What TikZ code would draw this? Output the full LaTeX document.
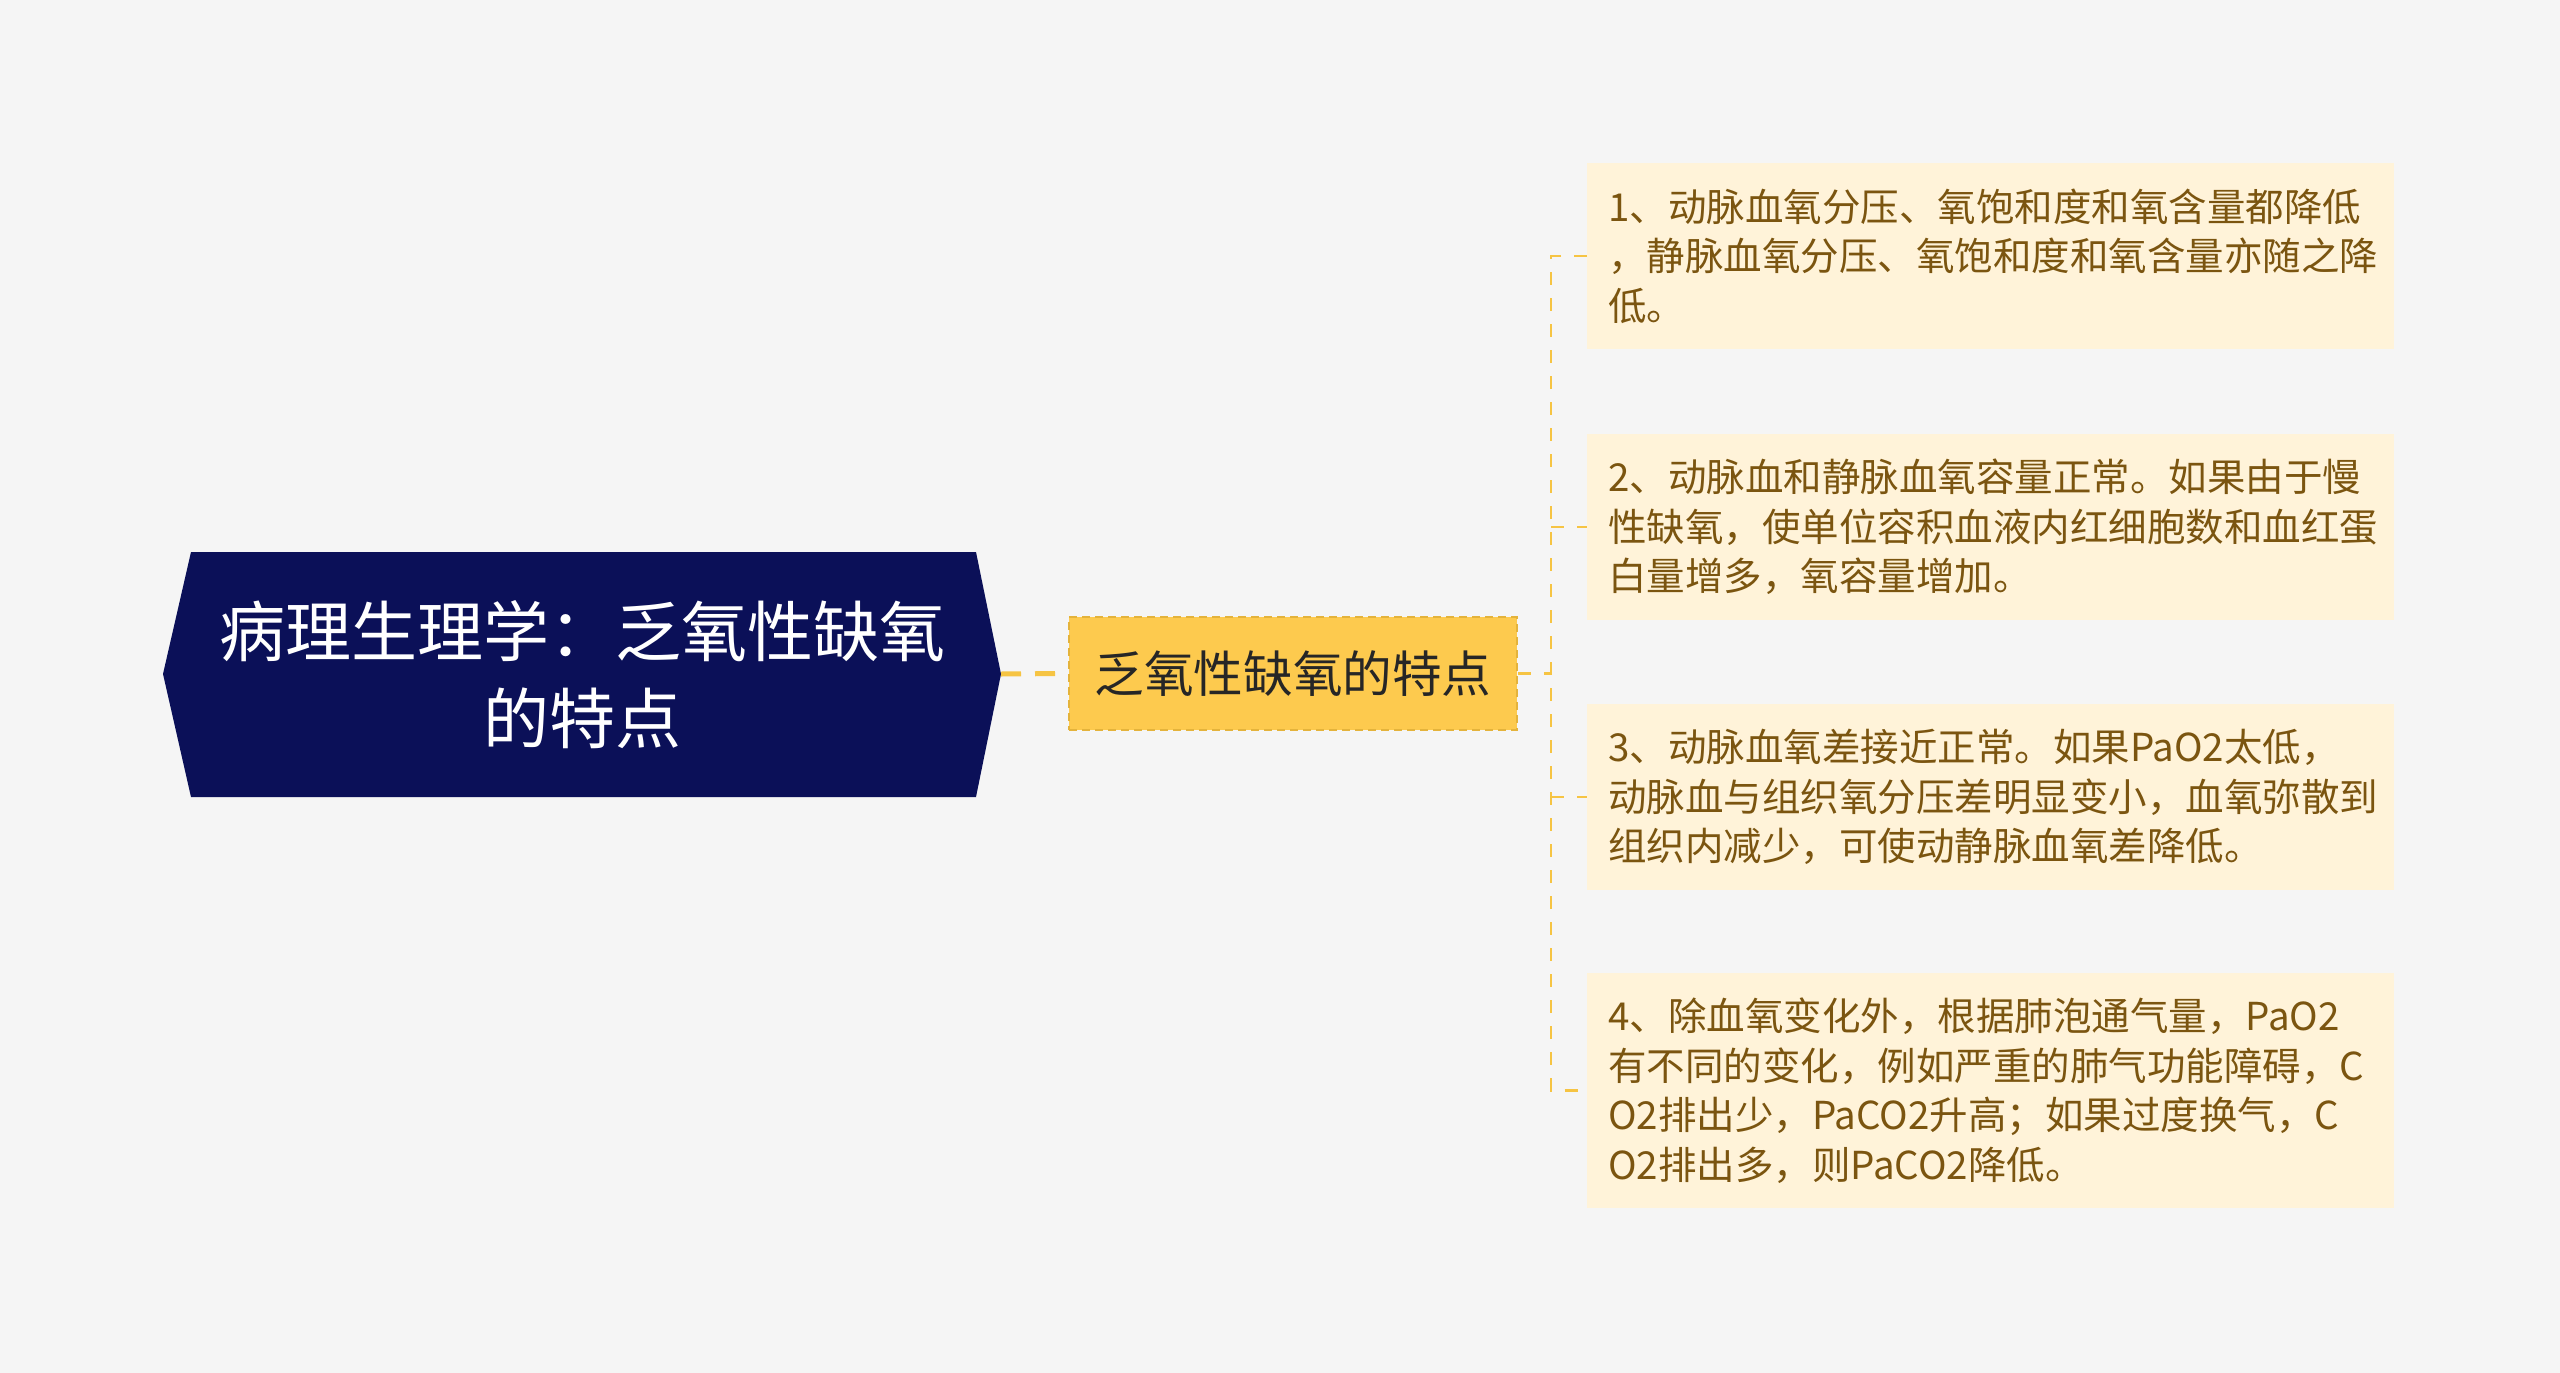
\documentclass[tikz,border=0pt]{standalone}
\usepackage{fontspec}
\setmainfont{Noto Sans CJK SC}
\newfontfamily\cjk{Noto Sans CJK SC}
\definecolor{bg}{HTML}{F5F5F5}
\definecolor{navy}{HTML}{0B1058}
\definecolor{gold}{HTML}{FDCA4E}
\definecolor{goldline}{HTML}{F6C443}
\definecolor{cream}{HTML}{FFF3D9}
\definecolor{brown}{HTML}{7B5510}
\begin{document}
\begin{tikzpicture}[x=1pt,y=-1pt,
  leaf/.style={rectangle, fill=cream, anchor=west, inner xsep=21pt, inner ysep=0pt,
    text width=765pt, align=left, text=brown, font={\cjk\fontsize{38.5}{49.5}\selectfont}},
  conn/.style={draw=goldline, line width=2.8pt, dash pattern=on 13pt off 13pt},
  thick conn/.style={draw=goldline, line width=5pt, dash pattern=on 20pt off 14pt}]
\fill[bg] (0,0) rectangle (2560,1373);
\useasboundingbox (0,0) rectangle (2560,1373);
% root
\fill[navy] (163,674) -- (191,552) -- (976,552) -- (1001,674) -- (976,797) -- (191,797) -- cycle;
\node[text=white, align=center, font={\cjk\fontsize{66}{87}\selectfont}] (root) at (582,675)
  {病理生理学：乏氧性缺氧\\的特点};
\coordinate (rootR) at (1001,674);
% middle
\node[rectangle, fill=gold, draw=goldline!85!brown, dash pattern=on 8pt off 5pt, line width=1.5pt,
  minimum width=448pt, minimum height=113pt, inner sep=0pt,
  font={\cjk\fontsize{49.6}{55}\selectfont}, text=black!85] (mid) at (1293,673.5) {乏氧性缺氧的特点};
\draw[thick conn] (rootR) -- (mid.west);
% leaves
\node[leaf, minimum height=186pt] (l1) at (1587,256)
  {1、动脉血氧分压、氧饱和度和氧含量都降低\\，静脉血氧分压、氧饱和度和氧含量亦随之降\\低。};
\node[leaf, minimum height=186pt] (l2) at (1587,527)
  {2、动脉血和静脉血氧容量正常。如果由于慢\\性缺氧，使单位容积血液内红细胞数和血红蛋\\白量增多，氧容量增加。};
\node[leaf, minimum height=186pt] (l3) at (1587,797)
  {3、动脉血氧差接近正常。如果PaO2太低，\\动脉血与组织氧分压差明显变小，血氧弥散到\\组织内减少，可使动静脉血氧差降低。};
\node[leaf, minimum height=235pt] (l4) at (1587,1090.5)
  {4、除血氧变化外，根据肺泡通气量，PaO2\\有不同的变化，例如严重的肺气功能障碍，C\\O2排出少，PaCO2升高；如果过度换气，C\\O2排出多，则PaCO2降低。};
% connectors
\coordinate (bus) at (1551,673.5);
\draw[conn] (mid.east) -- (bus);
\draw[conn] (l1.west) -- (l1.west -| bus) -- (l4.west -| bus) -- (l4.west);
\draw[conn] (l2.west -| bus) -- (l2.west);
\draw[conn] (l3.west -| bus) -- (l3.west);
\end{tikzpicture}
\end{document}
